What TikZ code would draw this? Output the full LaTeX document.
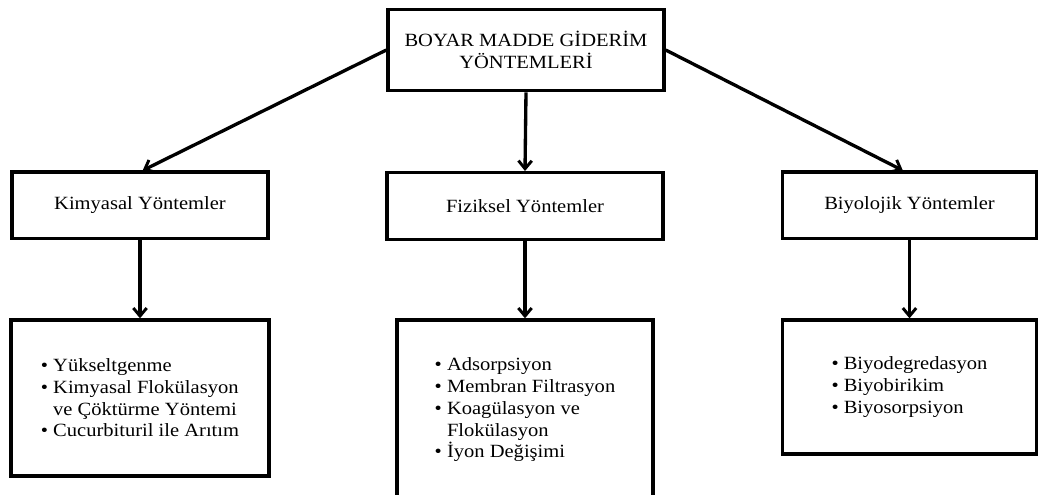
\documentclass[tikz,border=0pt]{standalone}
\usepackage{fontspec}
\setmainfont{Liberation Serif}[FakeStretch=1.1]
\usetikzlibrary{arrows.meta}

\begin{document}
\begin{tikzpicture}[x=0.75pt, y=-0.75pt,
  box/.style={draw, line width=2.5pt, align=center, font=\fontsize{14pt}{16.5pt}\selectfont, minimum height=50pt, inner sep=3pt},
  listbox/.style={box, align=left, font=\fontsize{14pt}{16.3pt}\selectfont},
  arr/.style={-{Straight Barb[length=6pt, width=10pt, line width=2.2pt]}, line width=2.5pt}]
\useasboundingbox (0,0) rectangle (1038,495);
\node[box, minimum width=207pt, minimum height=61pt] (top) at (526,50) {BOYAR MADDE GİDERİM\\YÖNTEMLERİ};
\node[box, minimum width=192pt] (kim) at (140,205.5) {Kimyasal Yöntemler};
\node[box, minimum width=207pt] (fiz) at (525,206) {Fiziksel Yöntemler};
\node[box, minimum width=191pt] (biy) at (909.5,205.5) {Biyolojik Yöntemler};
\node[listbox, minimum width=193.5pt, minimum height=117pt] (kimlist) at (140,398)
  {\textbullet\ Yükseltgenme\\\textbullet\ Kimyasal Flokülasyon\\\hphantom{\textbullet\ }ve Çöktürme Yöntemi\\\textbullet\ Cucurbituril ile Arıtım};
\node[listbox, minimum width=192pt, minimum height=135pt] (fizlist) at (525,410)
  {\textbullet\ Adsorpsiyon\\\textbullet\ Membran Filtrasyon\\\textbullet\ Koagülasyon ve\\\hphantom{\textbullet\ }Flokülasyon\\\textbullet\ İyon Değişimi};
\node[listbox, minimum width=191pt, minimum height=100.5pt] (biylist) at (909.5,387)
  {\textbullet\ Biyodegredasyon\\\textbullet\ Biyobirikim\\\textbullet\ Biyosorpsiyon};
\draw[arr] (top.west) -- ([xshift=2pt]kim.north);
\draw[arr] (top.south) -- (fiz.north);
\draw[arr] (top.east) -- ([xshift=-5pt]biy.north);
\draw[arr] (kim.south) -- (kimlist.north);
\draw[arr] (fiz.south) -- (fizlist.north);
\draw[arr] (biy.south) -- (biylist.north);
\end{tikzpicture}
\end{document}
